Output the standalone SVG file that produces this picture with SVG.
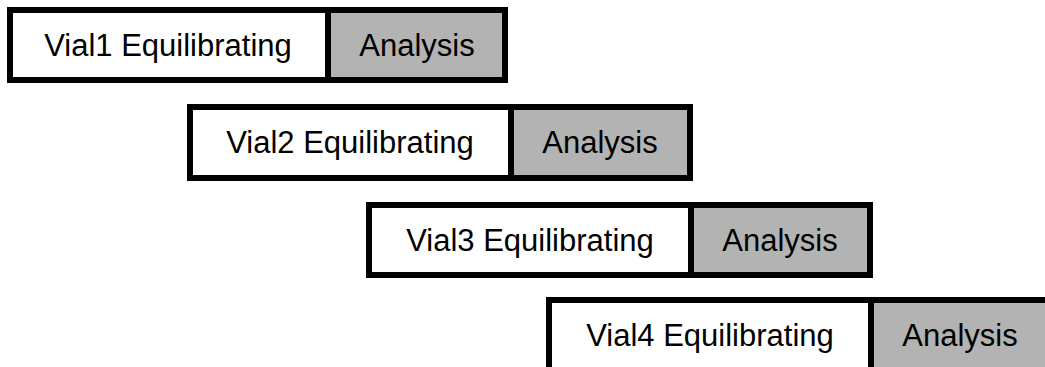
<svg xmlns="http://www.w3.org/2000/svg" width="1045" height="367" viewBox="0 0 1045 367">
<style>
.eq{fill:#ffffff;stroke:#000000;stroke-width:6}
.an{fill:#b3b3b3;stroke:#000000;stroke-width:6}
text{font-family:"Liberation Sans",Arial,sans-serif;font-size:31px;fill:#000000;text-anchor:middle}
</style>
<rect width="1045" height="367" fill="#ffffff"/>
<g id="row1">
<rect class="eq" x="10" y="10" width="318" height="70"/>
<rect class="an" x="328" y="10" width="177" height="70"/>
<text x="168" y="56">Vial1 Equilibrating</text>
<text x="417" y="56">Analysis</text>
</g>
<g id="row2">
<rect class="eq" x="190" y="107" width="321" height="71"/>
<rect class="an" x="511" y="107" width="179" height="71"/>
<text x="350" y="153">Vial2 Equilibrating</text>
<text x="600" y="153">Analysis</text>
</g>
<g id="row3">
<rect class="eq" x="369" y="205" width="322" height="70"/>
<rect class="an" x="691" y="205" width="179" height="70"/>
<text x="530" y="251">Vial3 Equilibrating</text>
<text x="780" y="251">Analysis</text>
</g>
<g id="row4">
<rect class="eq" x="549" y="300" width="322" height="70"/>
<rect class="an" x="871" y="300" width="179" height="70"/>
<text x="710" y="346">Vial4 Equilibrating</text>
<text x="960" y="346">Analysis</text>
</g>
<g id="connectors"/>
</svg>
